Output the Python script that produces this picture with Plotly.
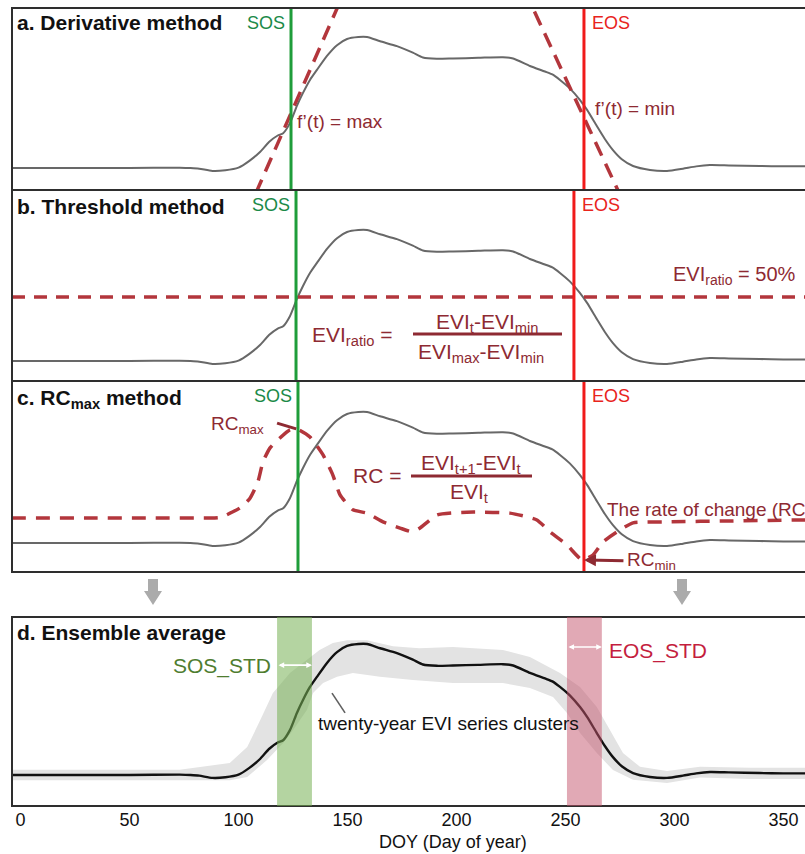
import plotly.graph_objects as go

# ---------------- data ----------------
# Smoothed EVI profile (day of year, EVI)
evi_days = [-4, 20, 50, 73, 78, 82, 88, 94, 100, 105, 110, 114, 118, 120.5, 123.6,
            126.8, 129.6, 132.8, 136, 140.6, 145.2, 149.8, 155, 159, 165, 172.7, 180,
            184.6, 191, 198.4, 210, 221.3, 226, 233.7, 240.6, 244, 247.5, 252, 256.7,
            260, 264.4, 268, 271.8, 276, 281, 288.8, 296.6, 303.9, 310, 316.3, 325,
            339.2, 350, 360]
evi_vals = [0.200, 0.200, 0.200, 0.201, 0.200, 0.198, 0.191, 0.193, 0.201, 0.222,
            0.250, 0.280, 0.300, 0.307, 0.338, 0.391, 0.431, 0.471, 0.502, 0.545,
            0.578, 0.597, 0.603, 0.603, 0.590, 0.575, 0.555, 0.540, 0.536, 0.537,
            0.539, 0.541, 0.537, 0.514, 0.497, 0.488, 0.471, 0.445, 0.409, 0.378,
            0.329, 0.290, 0.255, 0.226, 0.206, 0.194, 0.191, 0.198, 0.205, 0.209,
            0.208, 0.206, 0.205, 0.205]

# Rate of change curve (display units of panel c)
rc_days = [-4, 30, 60, 89, 92, 100.7, 105.3, 108.9, 111.2, 114.4, 119, 123.6, 126.8,
           132.8, 138.8, 143.3, 146.6, 152.5, 158.9, 166.3, 174.1, 180, 183.3, 191,
           204.8, 224.5, 236.9, 242.9, 250.7, 257.6, 262.6, 267.2, 273.6, 281, 296.6,
           326.8, 360]
rc_vals = [0.277, 0.277, 0.277, 0.277, 0.279, 0.308, 0.338, 0.388, 0.449, 0.492,
           0.523, 0.548, 0.551, 0.526, 0.471, 0.409, 0.348, 0.302, 0.292, 0.265,
           0.246, 0.234, 0.246, 0.286, 0.295, 0.292, 0.271, 0.234, 0.194, 0.148,
           0.163, 0.203, 0.234, 0.262, 0.265, 0.268, 0.271]

# Envelope of the twenty-year EVI series
ens_up_days = [-4, 73, 96, 104, 110, 115.8, 123.6, 131.4, 137.2, 143.3, 149.8, 158.9,
               170.9, 183, 198.4, 221.3, 233.7, 247.5, 256.7, 264.4, 270.4, 276.4,
               284.2, 296.6, 311.7, 335, 360]
ens_up = [0.216, 0.216, 0.237, 0.286, 0.369, 0.452, 0.514, 0.554, 0.585, 0.606, 0.615,
          0.615, 0.596, 0.590, 0.594, 0.585, 0.563, 0.514, 0.471, 0.409, 0.338, 0.268,
          0.225, 0.212, 0.225, 0.222, 0.222]
ens_lo_days = [-4, 96, 104, 113.1, 120.4, 125, 131.4, 134.2, 138.8, 145.2, 152.5,
               164.9, 180, 198.4, 221.3, 233.7, 244.3, 250.7, 256.7, 264.4, 271.8, 281,
               296.6, 311.7, 335, 360]
ens_lo = [0.184, 0.184, 0.194, 0.246, 0.298, 0.338, 0.400, 0.452, 0.483, 0.502, 0.514,
          0.502, 0.492, 0.483, 0.483, 0.468, 0.440, 0.391, 0.329, 0.268, 0.215, 0.185,
          0.175, 0.192, 0.188, 0.188]

# Phenology dates per method (a, b, c)
sos_days = [124.1, 126.4, 127.3]
eos_days = [258.5, 253.9, 258.5]

# Tangents at the inflection points (day, EVI, slope per day)
tangent_sos = (123.6, 0.361, 0.01526)
tangent_eos = (258.5, 0.355, -0.01436)

threshold_ratio = 0.5

# Ensemble SOS / EOS spread (day ranges)
sos_std_range = (117.7, 133.7)
eos_std_range = (250.7, 266.7)

x_ticks = [0, 50, 100, 150, 200, 250, 300, 350]

# ---------------- styling ----------------
W, H = 805, 854
FONT = "Liberation Sans, Arial, sans-serif"
GRAY = "#686868"
DASH_RED = "#b3363c"
DARK_RED = "#8e2a32"
LINE_GREEN = "#1f9d3a"
LINE_RED = "#f01a1a"
TXT_GREEN = "#1a8a48"
TXT_RED = "#e8241c"


def px(x):
    return x / W


def py(y):
    return 1 - y / H


# panel pixel extents (top, bottom) and y ranges
panels = [(8, 190, [0.1323, 0.6923]),
          (190, 381, [0.1385, 0.7262]),
          (381, 572, [0.1108, 0.6985]),
          (617, 806, [0.1046, 0.6862])]
xrange_ = [-3.9, 359.9]

fig = go.Figure()
layout = dict(width=W, height=H, margin=dict(l=0, r=0, t=0, b=0),
              paper_bgcolor="white", plot_bgcolor="white", showlegend=False,
              font=dict(family=FONT, color="#111111"))

for i, (top, bot, yr) in enumerate(panels, start=1):
    sfx = "" if i == 1 else str(i)
    layout["xaxis" + sfx] = dict(domain=[px(12), 1.0], range=xrange_, anchor="y" + sfx,
                                 showgrid=False, zeroline=False, showline=False,
                                 showticklabels=False, ticks="", fixedrange=True)
    layout["yaxis" + sfx] = dict(domain=[py(bot), py(top)], range=yr, anchor="x" + sfx,
                                 visible=False, fixedrange=True)

layout["xaxis4"].update(showticklabels=True, tickvals=x_ticks,
                        tickfont=dict(size=18, color="#111111"), automargin=False,
                        ticklabelstandoff=1)

# ---- panel d background envelope ----
fig.add_trace(go.Scatter(x=ens_up_days + ens_lo_days[::-1], y=ens_up + ens_lo[::-1],
                         fill="toself", fillcolor="#e3e3e3", line=dict(width=0),
                         mode="lines", xaxis="x4", yaxis="y4", hoverinfo="skip"))

# ---- EVI curves in all panels ----
for i in range(1, 5):
    sfx = "" if i == 1 else str(i)
    fig.add_trace(go.Scatter(
        x=evi_days, y=evi_vals, mode="lines",
        line=dict(color="#111111" if i == 4 else GRAY, width=2.4 if i == 4 else 2,
                  shape="spline", smoothing=0.6),
        xaxis="x" + sfx, yaxis="y" + sfx, hoverinfo="skip"))

# ---- panel a: tangent lines ----
for d0, v0, k in (tangent_sos, tangent_eos):
    xs = [d0 - 60, d0 + 60]
    ys = [v0 + k * (x - d0) for x in xs]
    fig.add_trace(go.Scatter(x=xs, y=ys, mode="lines",
                             line=dict(color=DASH_RED, width=3.5, dash="15px,9px"),
                             xaxis="x", yaxis="y", hoverinfo="skip"))

# ---- panel b: threshold line ----
evi_min, evi_max = min(evi_vals), max(evi_vals)
thr = evi_min + threshold_ratio * (evi_max - evi_min)
fig.add_trace(go.Scatter(x=[xrange_[0], xrange_[1]], y=[thr, thr], mode="lines",
                         line=dict(color=DASH_RED, width=3.5, dash="13px,9px"),
                         xaxis="x2", yaxis="y2", hoverinfo="skip"))

# ---- panel c: rate of change ----
fig.add_trace(go.Scatter(x=rc_days, y=rc_vals, mode="lines",
                         line=dict(color=DASH_RED, width=3.5, dash="14px,10px",
                                   shape="spline", smoothing=0.5),
                         xaxis="x3", yaxis="y3", hoverinfo="skip"))

shapes = []
annotations = []

# SOS / EOS vertical lines and labels
for i, (s, e) in enumerate(zip(sos_days, eos_days), start=1):
    sfx = "" if i == 1 else str(i)
    top = panels[i - 1][0]
    for d, c in ((s, LINE_GREEN), (e, LINE_RED)):
        shapes.append(dict(type="line", xref="x" + sfx, yref="y" + sfx + " domain",
                           x0=d, x1=d, y0=0, y1=1, line=dict(color=c, width=3),
                           layer="above"))
    annotations.append(dict(x=s, xref="x" + sfx, y=py(top + 15), yref="paper",
                            text="SOS", showarrow=False, xanchor="right",
                            yanchor="middle", xshift=-4,
                            font=dict(size=18, color=TXT_GREEN)))
    annotations.append(dict(x=e, xref="x" + sfx, y=py(top + 15), yref="paper",
                            text="EOS", showarrow=False, xanchor="left",
                            yanchor="middle", xshift=6,
                            font=dict(size=18, color=TXT_RED)))

# panel borders
for top, bot, _ in panels:
    shapes.append(dict(type="rect", xref="paper", yref="paper", x0=px(12), x1=1.05,
                       y0=py(bot), y1=py(top), line=dict(color="#2e2e2e", width=2),
                       layer="above"))

# panel titles
titles = [("<b>a. Derivative method</b>", 22), ("<b>b. Threshold method</b>", 207),
          ("<b>c. RC<sub>max</sub> method</b>", 399), ("<b>d. Ensemble average</b>", 632)]
for t, y in titles:
    annotations.append(dict(x=px(15), y=py(y), xref="paper", yref="paper", text=t,
                            showarrow=False, xanchor="left", yanchor="middle",
                            font=dict(size=21, color="#111111")))


def label(text, x, y, size=18, color=DARK_RED, xanchor="left"):
    annotations.append(dict(x=px(x), y=py(y), xref="paper", yref="paper", text=text,
                            showarrow=False, xanchor=xanchor, yanchor="middle",
                            font=dict(size=size, color=color)))


# panel a labels
label("f’(t) = max", 295, 122, 19)
label("f’(t) = min", 593, 108, 19)

# panel b labels and formula
label("EVI<sub>ratio</sub> = 50%", 671, 275, 20)
label("EVI<sub>ratio</sub> =", 310, 336, 21)
label("EVI<sub>t</sub>-EVI<sub>min</sub>", 487, 323, 21, xanchor="center")
label("EVI<sub>max</sub>-EVI<sub>min</sub>", 481, 353, 21, xanchor="center")
shapes.append(dict(type="line", xref="paper", yref="paper", x0=px(413), x1=px(562),
                   y0=py(334), y1=py(334), line=dict(color=DARK_RED, width=3)))

# panel c labels and formula
label("RC<sub>max</sub>", 209, 425, 19)
label("RC =", 351, 476, 21)
label("EVI<sub>t+1</sub>-EVI<sub>t</sub>", 471, 464, 21, xanchor="center")
label("EVI<sub>t</sub>", 469, 493, 21, xanchor="center")
shapes.append(dict(type="line", xref="paper", yref="paper", x0=px(411), x1=px(532),
                   y0=py(476), y1=py(476), line=dict(color=DARK_RED, width=3)))
label("The rate of change (RC)", 605, 509, 19)
label("RC<sub>min</sub>", 625, 561, 19)
shapes.append(dict(type="line", xref="x3", yref="y3", x0=117.7, y0=0.569, x1=126.5,
                   y1=0.551, line=dict(color=DARK_RED, width=3)))
annotations.append(dict(x=258.5, y=0.148, xref="x3", yref="y3", ax=277.3, ay=0.145,
                        axref="x3", ayref="y3", text="", showarrow=True, arrowhead=2,
                        arrowsize=0.8, arrowwidth=3, arrowcolor=DARK_RED))

# panel d: spread bands
for (a, b), col in ((sos_std_range, "rgba(118,176,84,0.55)"),
                    (eos_std_range, "rgba(196,84,108,0.5)")):
    shapes.append(dict(type="rect", xref="x4", yref="y4 domain", x0=a, x1=b, y0=0, y1=1,
                       fillcolor=col, line=dict(width=0), layer="above"))
for (a, b), yv in ((sos_std_range, 0.538), (eos_std_range, 0.594)):
    annotations.append(dict(x=b, y=yv, ax=a, ay=yv, xref="x4", yref="y4", axref="x4",
                            ayref="y4", text="", showarrow=True, arrowhead=2,
                            arrowside="end+start", arrowsize=0.7, arrowwidth=1.6,
                            arrowcolor="white"))
label("SOS_STD", 273, 666, 21, color="#4f7d30", xanchor="right")
label("EOS_STD", 607, 651, 21, color="#c41e3e")
label("twenty-year EVI series clusters", 316, 723, 19, color="#111111")
shapes.append(dict(type="line", xref="x4", yref="y4", x0=142.9, y0=0.452, x1=148.9,
                   y1=0.391, line=dict(color="#606060", width=1.6)))

# down arrows between panels c and d
for cx in (153, 682):
    path = (f"M {px(cx - 5)} {py(579)} L {px(cx + 5)} {py(579)} L {px(cx + 5)} {py(591)} "
            f"L {px(cx + 9)} {py(591)} L {px(cx)} {py(605)} L {px(cx - 9)} {py(591)} "
            f"L {px(cx - 5)} {py(591)} Z")
    shapes.append(dict(type="path", xref="paper", yref="paper", path=path,
                       fillcolor="#ababab", line=dict(width=0)))

# axis title
label("DOY (Day of year)", 453, 842, 18, color="#111111", xanchor="center")

layout["shapes"] = shapes
layout["annotations"] = annotations
fig.update_layout(**layout)

fig.write_html("out.html")
